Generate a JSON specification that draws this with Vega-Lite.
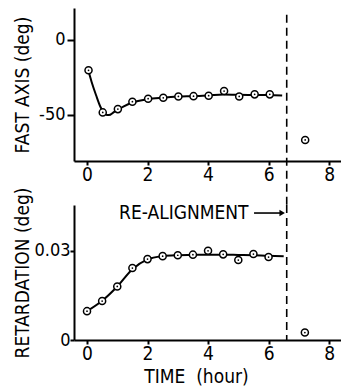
{
  "$schema": "https://vega.github.io/schema/vega-lite/v6.json",
  "padding": {"left": 13, "top": 8, "right": 0, "bottom": 0},
  "bounds": "flush",
  "spacing": 44,
  "config": {
    "view": {"stroke": null},
    "font": "DejaVu Sans Condensed, DejaVu Sans",
    "axis": {
      "grid": false, "domainColor": "black", "domainWidth": 2, "tickColor": "black", "tickWidth": 2, "tickSize": 6,
      "labelColor": "black", "titleColor": "black", "labelFont": "DejaVu Sans Condensed, DejaVu Sans", "titleFont": "DejaVu Sans Condensed, DejaVu Sans",
      "labelFontSize": 19, "titleFontSize": 19, "titleFontWeight": "normal", "labelPadding": 2
    },
    "axisX": {"tickSize": 4, "labelPadding": 0},
    "axisY": {"labelFontSize": 18}
  },
  "datasets": {
    "fastPts": [
      {"t": 0.05, "v": -20.4}, {"t": 0.52, "v": -48.4}, {"t": 1.02, "v": -46.2}, {"t": 1.5, "v": -41.3},
      {"t": 2.02, "v": -39.3}, {"t": 2.52, "v": -38.7}, {"t": 3.02, "v": -37.8}, {"t": 3.52, "v": -37.6},
      {"t": 4.02, "v": -37.3}, {"t": 4.53, "v": -34.2}, {"t": 5.03, "v": -37.8}, {"t": 5.54, "v": -36.4},
      {"t": 6.04, "v": -36.4}, {"t": 7.21, "v": -66.7}
    ],
    "fastCurve": [
      {"t": 0.05, "v": -21}, {"t": 0.15, "v": -28}, {"t": 0.3, "v": -37}, {"t": 0.45, "v": -45}, {"t": 0.6, "v": -49.5},
      {"t": 0.72, "v": -50.2}, {"t": 0.9, "v": -48}, {"t": 1.2, "v": -44.5}, {"t": 1.5, "v": -41.8}, {"t": 2.0, "v": -39.6},
      {"t": 2.5, "v": -38.6}, {"t": 3.0, "v": -37.9}, {"t": 3.5, "v": -37.6}, {"t": 4.0, "v": -37.2}, {"t": 4.5, "v": -36.5},
      {"t": 5.0, "v": -36.7}, {"t": 5.5, "v": -36.8}, {"t": 6.0, "v": -36.9}, {"t": 6.45, "v": -37.2}
    ],
    "retPts": [
      {"t": 0.0, "v": 0.0097}, {"t": 0.5, "v": 0.0131}, {"t": 1.0, "v": 0.018}, {"t": 1.5, "v": 0.0242},
      {"t": 2.0, "v": 0.0272}, {"t": 2.5, "v": 0.0282}, {"t": 3.0, "v": 0.0285}, {"t": 3.5, "v": 0.0287},
      {"t": 4.0, "v": 0.03}, {"t": 4.5, "v": 0.0288}, {"t": 5.0, "v": 0.0269}, {"t": 5.5, "v": 0.0289},
      {"t": 6.0, "v": 0.0279}, {"t": 7.2, "v": 0.0025}
    ],
    "retCurve": [
      {"t": 0.0, "v": 0.0097}, {"t": 0.5, "v": 0.0132}, {"t": 1.0, "v": 0.018}, {"t": 1.5, "v": 0.0238},
      {"t": 2.0, "v": 0.0271}, {"t": 2.5, "v": 0.0282}, {"t": 3.0, "v": 0.0285}, {"t": 3.5, "v": 0.0286},
      {"t": 4.0, "v": 0.0287}, {"t": 4.5, "v": 0.0287}, {"t": 5.0, "v": 0.0286}, {"t": 5.5, "v": 0.0285},
      {"t": 6.0, "v": 0.0283}, {"t": 6.5, "v": 0.0282}
    ]
  },
  "vconcat": [
    {
      "width": 269, "height": 153,
      "layer": [
        {
          "data": {"name": "fastCurve"},
          "mark": {"type": "line", "color": "black", "strokeWidth": 2, "interpolate": "monotone"},
          "encoding": {
            "x": {"field": "t", "type": "quantitative", "scale": {"domain": [-0.43, 8.46], "nice": false},
                  "axis": {"values": [0, 2, 4, 6, 8], "title": null}},
            "y": {"field": "v", "type": "quantitative", "scale": {"domain": [-80.7, 21], "nice": false, "zero": false},
                  "axis": {"values": [0, -50], "title": "FAST AXIS (deg)", "labelExpr": "replace(datum.label, '−', '-')", "tickSize": 7, "labelPadding": 2, "titlePadding": 6}}
          }
        },
        {
          "data": {"values": [{"t": 6.6, "y1": 16.5, "y2": -110}]},
          "mark": {"type": "rule", "color": "black", "strokeWidth": 1.6, "strokeDash": [8, 5]},
          "encoding": {"x": {"field": "t", "type": "quantitative"}, "y": {"field": "y1", "type": "quantitative"}, "y2": {"field": "y2"}}
        },
        {
          "data": {"name": "fastPts"},
          "mark": {"type": "point", "shape": "circle", "filled": true, "fill": "white", "stroke": "black", "strokeWidth": 1.5, "size": 50, "opacity": 1},
          "encoding": {"x": {"field": "t", "type": "quantitative"}, "y": {"field": "v", "type": "quantitative"}}
        },
        {
          "data": {"name": "fastPts"},
          "mark": {"type": "point", "shape": "circle", "filled": true, "color": "black", "size": 3, "opacity": 1},
          "encoding": {"x": {"field": "t", "type": "quantitative"}, "y": {"field": "v", "type": "quantitative"}}
        }
      ]
    },
    {
      "width": 269, "height": 135,
      "layer": [
        {
          "data": {"name": "retCurve"},
          "mark": {"type": "line", "color": "black", "strokeWidth": 2, "interpolate": "monotone"},
          "encoding": {
            "x": {"field": "t", "type": "quantitative", "scale": {"domain": [-0.43, 8.46], "nice": false},
                  "axis": {"values": [0, 2, 4, 6, 8], "title": "TIME\u00a0\u00a0(hour)", "titleX": 122, "titleFontSize": 19, "titlePadding": 4}},
            "y": {"field": "v", "type": "quantitative", "scale": {"domain": [0, 0.0454], "nice": false},
                  "axis": {"values": [0, 0.03], "format": ".2~f", "title": "RETARDATION (deg)", "tickSize": 4, "labelPadding": 0, "titlePadding": 1}}
          }
        },
        {
          "data": {"values": [{"t": 6.6, "y1": 0.0454, "y2": 0}]},
          "mark": {"type": "rule", "color": "black", "strokeWidth": 1.6, "strokeDash": [8, 5]},
          "encoding": {"x": {"field": "t", "type": "quantitative"}, "y": {"field": "y1", "type": "quantitative"}, "y2": {"field": "y2"}}
        },
        {
          "data": {"values": [{"t": 1.06, "v": 0.0427, "label": "RE-ALIGNMENT"}]},
          "mark": {"type": "text", "align": "left", "baseline": "middle", "fontSize": 19, "color": "black"},
          "encoding": {"x": {"field": "t", "type": "quantitative"}, "y": {"field": "v", "type": "quantitative"}, "text": {"field": "label"}}
        },
        {
          "data": {"values": [{"t": 5.52, "t2": 6.45, "v": 0.0427}]},
          "mark": {"type": "rule", "color": "black", "strokeWidth": 1.6},
          "encoding": {"x": {"field": "t", "type": "quantitative"}, "x2": {"field": "t2"}, "y": {"field": "v", "type": "quantitative"}}
        },
        {
          "data": {"values": [{"t": 6.45, "v": 0.0427}]},
          "mark": {"type": "point", "shape": "triangle-right", "filled": true, "color": "black", "size": 40, "opacity": 1},
          "encoding": {"x": {"field": "t", "type": "quantitative"}, "y": {"field": "v", "type": "quantitative"}}
        },
        {
          "data": {"name": "retPts"},
          "mark": {"type": "point", "shape": "circle", "filled": true, "fill": "white", "stroke": "black", "strokeWidth": 1.5, "size": 50, "opacity": 1},
          "encoding": {"x": {"field": "t", "type": "quantitative"}, "y": {"field": "v", "type": "quantitative"}}
        },
        {
          "data": {"name": "retPts"},
          "mark": {"type": "point", "shape": "circle", "filled": true, "color": "black", "size": 3, "opacity": 1},
          "encoding": {"x": {"field": "t", "type": "quantitative"}, "y": {"field": "v", "type": "quantitative"}}
        }
      ]
    }
  ]
}
